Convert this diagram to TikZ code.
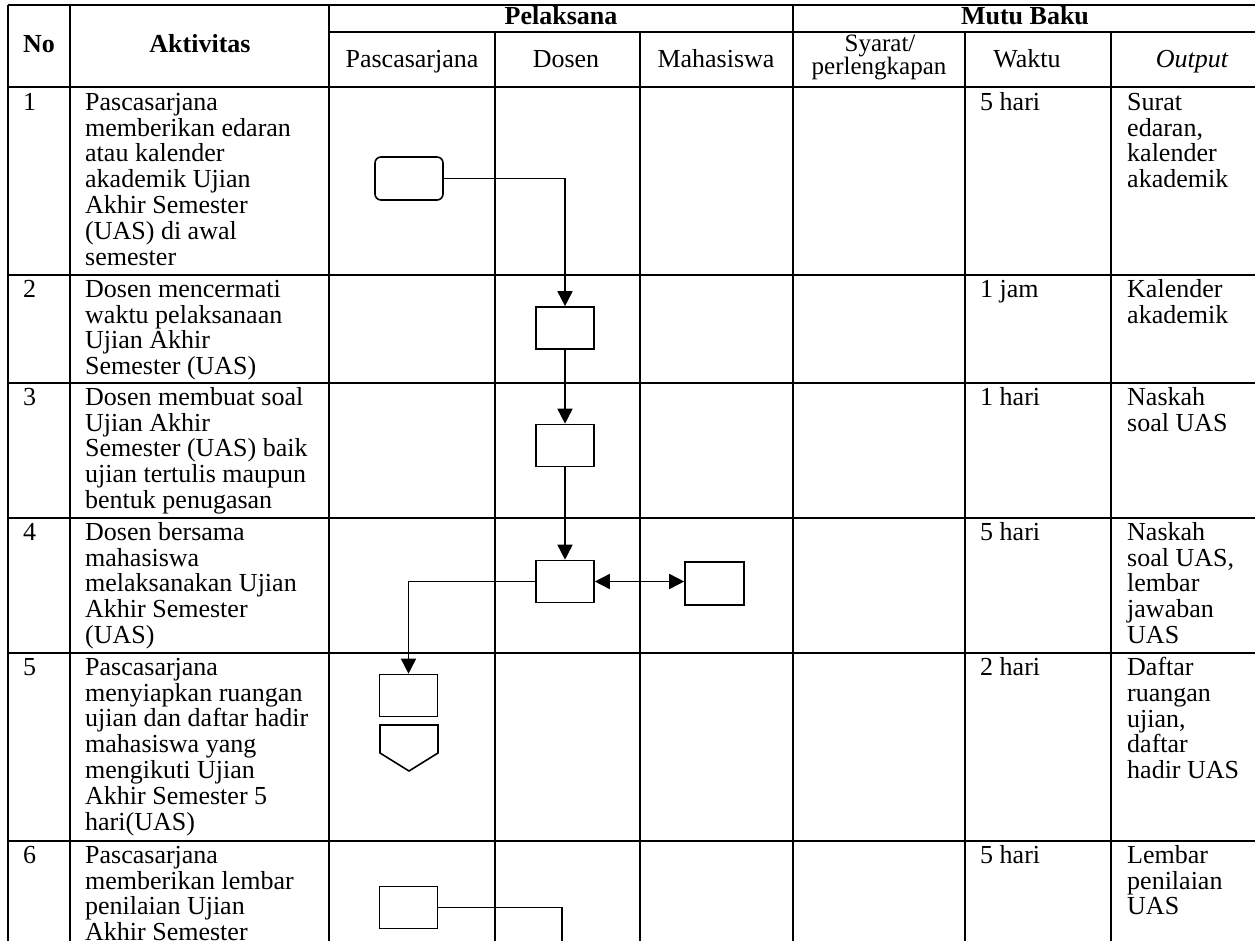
\documentclass[tikz,border=0pt]{standalone}
\usepackage{fontspec}
\setmainfont{Liberation Serif}
\usetikzlibrary{arrows.meta,calc}
\newcommand\fsz{\fontsize{26}{25.8}\selectfont}
\begin{document}
\begin{tikzpicture}[x=1pt,y=-1pt,
  grid/.style={line width=1.5pt},
  cell/.style={anchor=north west, inner sep=0pt, align=left, font=\fsz},
  hdr/.style={anchor=base, inner sep=0pt, font=\fsz},
  bhdr/.style={anchor=base, inner sep=0pt, font=\fsz\bfseries},
  box/.style={draw, line width=1.6pt, minimum width=58pt, minimum height=42pt, inner sep=0pt},
  flow/.style={line width=1.6pt},
  arr/.style={flow, -{Triangle[length=15pt,width=15pt]}},
  darr/.style={flow, {Triangle[length=15pt,width=15pt]}-{Triangle[length=15pt,width=15pt]}},
]
\useasboundingbox (0,0) rectangle (1255,941);
\fill[white] (0,0) rectangle (1255,941);

% ---------- table grid ----------
\draw[grid] (8,5) -- (1262,5);
\draw[grid] (329,32) -- (1262,32);
\draw[grid] (8,87) -- (1262,87);
\foreach \yy in {275,383,518,653,841} \draw[grid] (8,\yy) -- (1262,\yy);
\foreach \xx in {8,70,329,793,1262} \draw[grid] (\xx,5) -- (\xx,960);
\foreach \xx in {495,640,965,1111} \draw[grid] (\xx,32) -- (\xx,960);

% ---------- header ----------
\node[bhdr] (hno) at (39,53) {No};
\node[bhdr] (hakt) at (200,53) {Aktivitas};
\node[bhdr] (hpel) at (561,25) {Pelaksana};
\node[bhdr] (hmutu) at (1025,25) {Mutu Baku};
\node[hdr] (hpas) at (412,68) {Pascasarjana};
\node[hdr] (hdos) at (566,68) {Dosen};
\node[hdr] (hmah) at (716,68) {Mahasiswa};
\node[hdr, font=\fontsize{25}{20}\selectfont] (hsy1) at (880,52) {Syarat/};
\node[hdr, font=\fontsize{25}{20}\selectfont] (hsy2) at (879,75) {perlengkapan};
\node[hdr] (hwak) at (1027,68) {Waktu};
\node[hdr] (hout) at (1192,68) {\itshape Output};

% ---------- row texts ----------
% row 1
\node[cell] (n1) at (23,92) {\strut 1};
\node[cell] (a1) at (85,92) {\strut Pascasarjana\\memberikan edaran\\atau kalender\\akademik Ujian\\Akhir Semester\\(UAS) di awal\\semester};
\node[cell] (w1) at (980,92) {\strut 5 hari};
\node[cell] (o1) at (1127,92) {\strut Surat\\edaran,\\kalender\\akademik};
% row 2
\node[cell] (n2) at (23,279) {\strut 2};
\node[cell] (a2) at (85,279) {\strut Dosen mencermati\\waktu pelaksanaan\\Ujian Akhir\\Semester (UAS)};
\node[cell] (w2) at (980,279) {\strut 1 jam};
\node[cell] (o2) at (1127,279) {\strut Kalender\\akademik};
% row 3
\node[cell] (n3) at (23,387) {\strut 3};
\node[cell] (a3) at (85,387) {\strut Dosen membuat soal\\Ujian Akhir\\Semester (UAS) baik\\ujian tertulis maupun\\bentuk penugasan};
\node[cell] (w3) at (980,387) {\strut 1 hari};
\node[cell] (o3) at (1127,387) {\strut Naskah\\soal UAS};
% row 4
\node[cell] (n4) at (23,522) {\strut 4};
\node[cell] (a4) at (85,522) {\strut Dosen bersama\\mahasiswa\\melaksanakan Ujian\\Akhir Semester\\(UAS)};
\node[cell] (w4) at (980,522) {\strut 5 hari};
\node[cell] (o4) at (1127,522) {\strut Naskah\\soal UAS,\\lembar\\jawaban\\UAS};
% row 5
\node[cell] (n5) at (23,657) {\strut 5};
\node[cell] (a5) at (85,657) {\strut Pascasarjana\\menyiapkan ruangan\\ujian dan daftar hadir\\mahasiswa yang\\mengikuti Ujian\\Akhir Semester 5\\hari(UAS)};
\node[cell] (w5) at (980,657) {\strut 2 hari};
\node[cell] (o5) at (1127,657) {\strut Daftar\\ruangan\\ujian,\\daftar\\hadir UAS};
% row 6
\node[cell] (n6) at (23,845) {\strut 6};
\node[cell] (a6) at (85,845) {\strut Pascasarjana\\memberikan lembar\\penilaian Ujian\\Akhir Semester};
\node[cell] (w6) at (980,845) {\strut 5 hari};
\node[cell] (o6) at (1127,845) {\strut Lembar\\penilaian\\UAS};

% ---------- flow shapes ----------
\node[box, rounded corners=6pt, minimum width=68pt, minimum height=43pt] (b1) at (409,178.5) {};
\node[box] (b2) at (565,328) {};
\node[box] (b3) at (565,445.5) {};
\node[box] (b4) at (565,581.5) {};
\node[box, minimum width=59pt, minimum height=43pt] (m4) at (714.5,583.5) {};
\node[box] (b5) at (408.5,695.5) {};
\coordinate (c5) at (409,725);
\draw[flow, line join=miter] ($(c5)+(-29,0)$) -- ($(c5)+(29,0)$) -- ($(c5)+(29,28)$) -- ($(c5)+(0,46)$) -- ($(c5)+(-29,28)$) -- cycle;
\node[box] (b6) at (408.5,907.5) {};
\coordinate (e6) at (562,960);

% ---------- connectors ----------
\draw[arr] (b1.east) -| (b2.north);
\draw[arr] (b2.south) -- (b3.north);
\draw[arr] (b3.south) -- (b4.north);
\draw[darr] (b4.east) -- (b4.east -| m4.west);
\draw[arr] (b4.west) -| (b5.north);
\draw[flow] (b6.east) -| (e6);
\end{tikzpicture}
\end{document}
